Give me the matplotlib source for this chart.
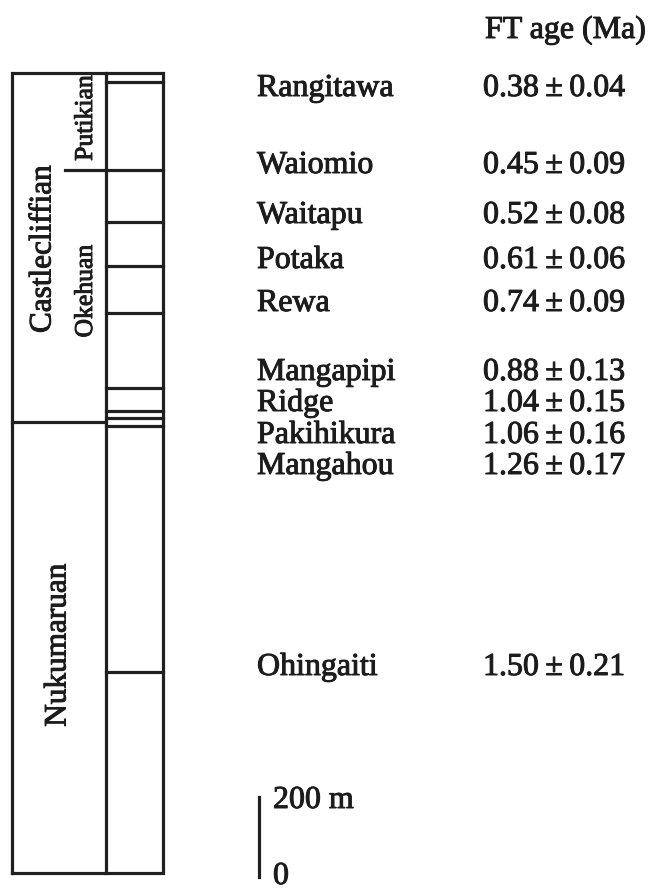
import matplotlib
matplotlib.use("Agg")
import matplotlib.pyplot as plt
import matplotlib.patheffects as pe

# ---------------- data ----------------
samples = ["Rangitawa", "Waiomio", "Waitapu", "Potaka", "Rewa",
           "Mangapipi", "Ridge", "Pakihikura", "Mangahou", "Ohingaiti"]
ft_age = [0.38, 0.45, 0.52, 0.61, 0.74, 0.88, 1.04, 1.06, 1.26, 1.50]
ft_err = [0.04, 0.09, 0.08, 0.06, 0.09, 0.13, 0.15, 0.16, 0.17, 0.21]

# stratigraphic heights (m above base of section)
section_top = 2000
section_base = 0
horizons_m = [1977, 1757, 1627, 1517, 1400, 1212, 1155, 1137, 1117, 502]
stages = ["Castlecliffian", "Nukumaruan"]
stage_boundary_m = 1127
substages = ["Putikian", "Okehuan"]
substage_boundary_m = 1757
scale_bar_len = 200

# ---------------- layout ----------------
W, H = 652, 891
DPI = 100
TXT = "#1c1c1c"
FONT = ["Liberation Serif", "DejaVu Serif"]
px2m = 2.5                     # metres per pixel
base_px = 873                  # pixel row of section base
heavy = [pe.withStroke(linewidth=0.7, foreground=TXT)]


def m(ypx):
    return (base_px - ypx) * px2m


fig = plt.figure(figsize=(W / DPI, H / DPI), dpi=DPI)
ax = fig.add_axes([0, 0, 1, 1])
ax.set_xlim(0, W)
ax.set_ylim(m(H), m(0))
ax.axis("off")

x_left, x_div, x_right = 12, 106, 163
lw = 2.3
lc = "#202020"

# outer box and divider
ax.plot([x_left, x_right, x_right, x_left, x_left],
        [section_base, section_base, section_top, section_top, section_base],
        color=lc, lw=lw, solid_joinstyle="miter")
ax.plot([x_div, x_div], [section_base, section_top], color=lc, lw=lw)

# horizons in the right column
for h in horizons_m:
    ax.plot([x_div, x_right], [h, h], color=lc, lw=lw)

# stage boundary
ax.plot([x_left, x_div], [stage_boundary_m, stage_boundary_m], color=lc, lw=lw)
# substage boundary
ax.plot([65, x_div], [substage_boundary_m, substage_boundary_m], color=lc, lw=lw)

# stage labels (rotated)
ax.text(43, m(249), stages[0], rotation=90, ha="center", va="center",
        fontsize=22.5, family=FONT, color=TXT, path_effects=heavy)
ax.text(58, m(645), stages[1], rotation=90, ha="center", va="center",
        fontsize=22.5, family=FONT, color=TXT, path_effects=heavy)
ax.text(86, m(118), substages[0], rotation=90, ha="center", va="center",
        fontsize=18.5, family=FONT, color=TXT, path_effects=heavy)
ax.text(86, m(291), substages[1], rotation=90, ha="center", va="center",
        fontsize=18.5, family=FONT, color=TXT, path_effects=heavy)

# sample table
label_baselines_px = [96, 173, 223, 268, 311, 380, 411, 443, 474, 675]
fs = 23
ax.text(485, m(38), "FT age (Ma)", ha="left", va="baseline",
        fontsize=fs, family=FONT, color=TXT, path_effects=heavy)
for name, a, e, yb in zip(samples, ft_age, ft_err, label_baselines_px):
    ax.text(257, m(yb), name, ha="left", va="baseline",
            fontsize=fs, family=FONT, color=TXT, path_effects=heavy)
    ax.text(483, m(yb), f"{a:.2f}\u2009\u00b1\u2009{e:.2f}", ha="left",
            va="baseline", fontsize=fs, family=FONT, color=TXT,
            path_effects=heavy)

# scale bar
bar_x = 259
bar_bottom = -10
ax.plot([bar_x, bar_x], [bar_bottom, bar_bottom + scale_bar_len],
        color=lc, lw=lw)
ax.text(273, m(808), f"{scale_bar_len} m", ha="left", va="baseline",
        fontsize=fs, family=FONT, color=TXT, path_effects=heavy)
ax.text(273, m(884), "0", ha="left", va="baseline",
        fontsize=fs, family=FONT, color=TXT, path_effects=heavy)

fig.savefig("out.png", dpi=DPI, facecolor="white")
